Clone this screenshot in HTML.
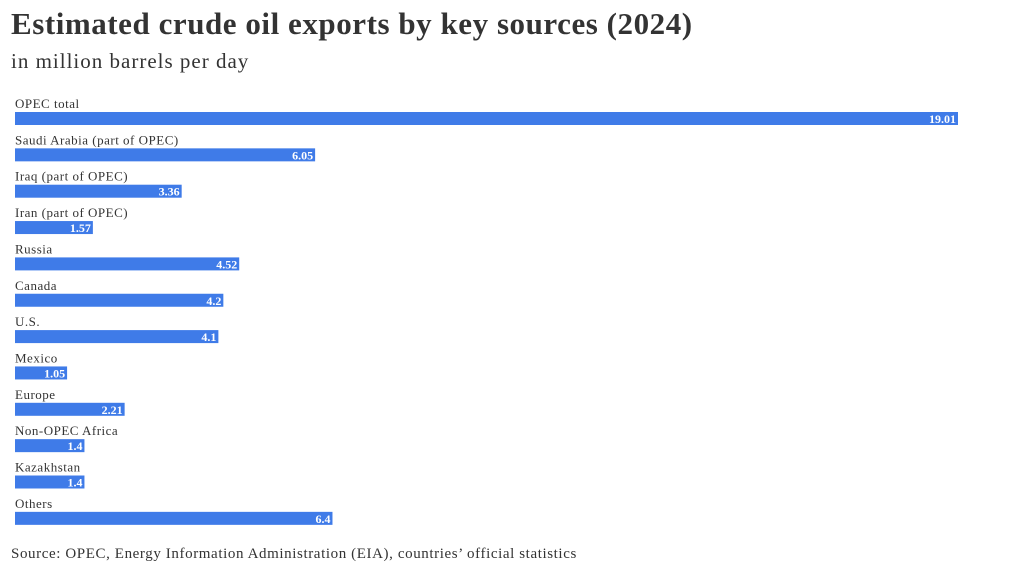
<!DOCTYPE html>
<html><head><meta charset="utf-8"><style>
body{margin:0;width:1020px;height:575px;background:#fff;font-family:"Liberation Serif",serif;color:#333;position:relative;overflow:hidden}
#title{position:absolute;left:11px;top:6px;font-size:31px;font-weight:bold;color:#333;margin:0;letter-spacing:0.55px}
#sub{position:absolute;left:11px;top:49px;font-size:21px;color:#333;letter-spacing:1px}
#src{position:absolute;left:11px;top:546px;font-size:15px;color:#333;letter-spacing:0.6px}
svg{position:absolute;left:0;top:0}
</style></head><body>
<h1 id="title">Estimated crude oil exports by key sources (2024)</h1>
<div id="sub">in million barrels per day</div>
<svg id="chart" width="1020" height="575"></svg>
<div id="src">Source: OPEC, Energy Information Administration (EIA), countries’ official statistics</div>
<script>
const categories=["OPEC total","Saudi Arabia (part of OPEC)","Iraq (part of OPEC)","Iran (part of OPEC)","Russia","Canada","U.S.","Mexico","Europe","Non-OPEC Africa","Kazakhstan","Others"];
const values=[19.01,6.05,3.36,1.57,4.52,4.2,4.1,1.05,2.21,1.4,1.4,6.4];
const valueLabels=["19.01","6.05","3.36","1.57","4.52","4.2","4.1","1.05","2.21","1.4","1.4","6.4"];
const NS="http://www.w3.org/2000/svg";
const svg=document.getElementById('chart');
const x0=15,xScale=v=>x0+v*(943/19.01);
const rowY=i=>111+i*36.35;
categories.forEach((c,i)=>{
  const y=rowY(i);
  const t=document.createElementNS(NS,'text');
  
  
  t.setAttribute('x',x0);t.setAttribute('y',y-3);
  t.setAttribute('font-size','13');t.setAttribute('fill','#333');
  t.setAttribute('letter-spacing','0.5');
  t.textContent=c;svg.appendChild(t);
  const r=document.createElementNS(NS,'rect');
  
  
  const w=xScale(values[i])-x0;
  r.setAttribute('x',x0);r.setAttribute('y',y+1);r.setAttribute('width',w);r.setAttribute('height',13);
  r.setAttribute('fill','#3f7be8');svg.appendChild(r);
  const v=document.createElementNS(NS,'text');
  
  
  v.setAttribute('x',xScale(values[i])-2);v.setAttribute('y',y+12);
  v.setAttribute('text-anchor','end');v.setAttribute('font-size','12');
  v.setAttribute('font-weight','bold');v.setAttribute('fill','#fff');
  v.textContent=valueLabels[i];svg.appendChild(v);
});
</script>
</body></html>
